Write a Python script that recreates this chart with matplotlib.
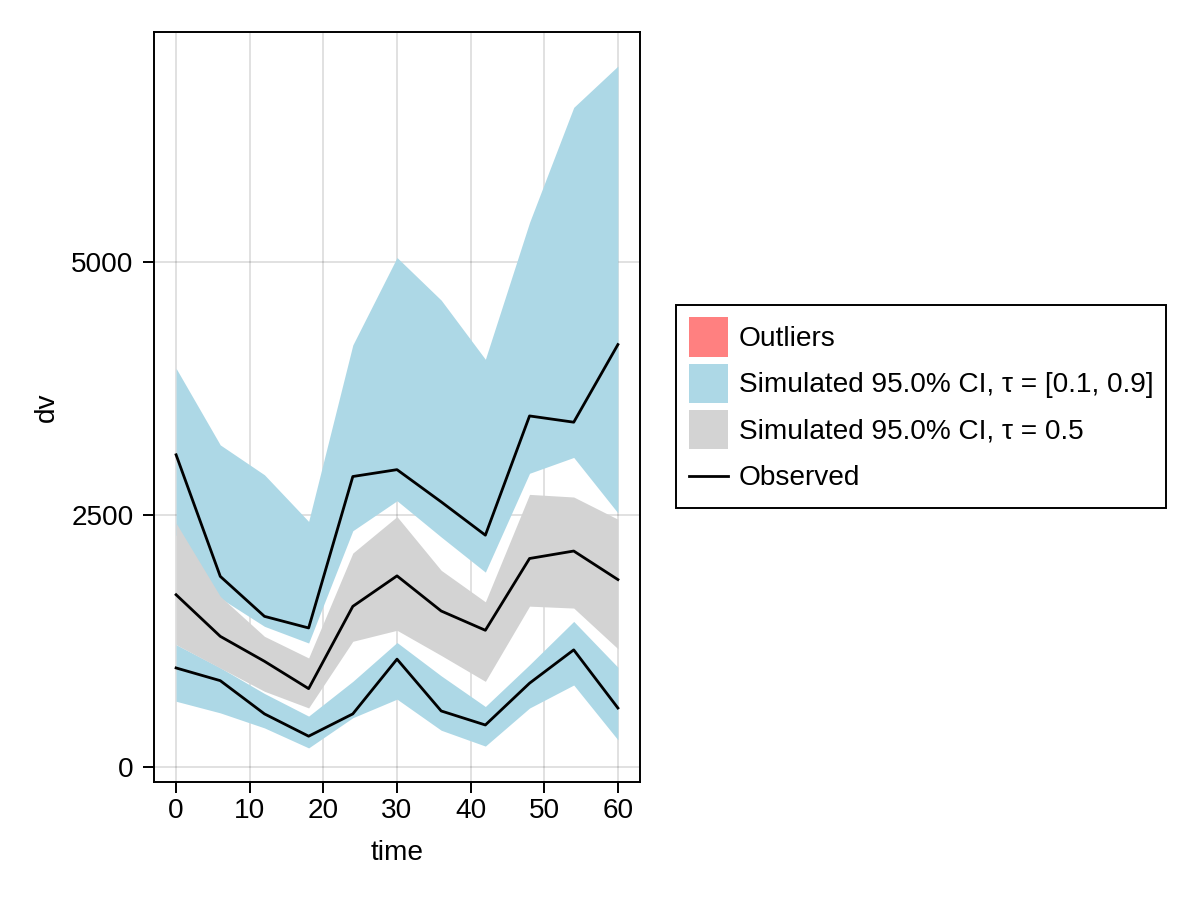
import matplotlib
matplotlib.use("Agg")
import matplotlib.pyplot as plt
import matplotlib.patches as mpatches
from matplotlib.lines import Line2D
from matplotlib.legend_handler import HandlerPatch, HandlerLine2D

# data
time = [0, 6, 12, 18, 24, 30, 36, 42, 48, 54, 60]

# observed quantiles (tau = 0.1, 0.5, 0.9)
obs_hi = [3094, 1890, 1494, 1379, 2879, 2947, 2628, 2298, 3479, 3417, 4186]
obs_med = [1708, 1296, 1049, 778, 1593, 1895, 1547, 1356, 2067, 2141, 1858]
obs_lo = [983, 857, 528, 307, 528, 1070, 557, 418, 832, 1162, 586]

# simulated 95% CI, tau = 0.9
up_top = [3951, 3192, 2896, 2434, 4182, 5048, 4626, 4040, 5396, 6535, 6944]
up_bot = [2300, 1675, 1395, 1230, 2342, 2639, 2280, 1932, 2911, 3068, 2518]
# simulated 95% CI, tau = 0.5
med_top = [2417, 1692, 1296, 1082, 2121, 2482, 1950, 1638, 2702, 2676, 2456]
med_bot = [1214, 982, 752, 587, 1247, 1356, 1107, 850, 1595, 1576, 1173]
# simulated 95% CI, tau = 0.1
low_top = [1214, 985, 730, 506, 850, 1235, 905, 601, 1015, 1444, 990]
low_bot = [653, 538, 389, 191, 490, 674, 366, 209, 586, 814, 271]

yticks = [0, 2500, 5000]
xticks = [0, 10, 20, 30, 40, 50, 60]


class CenteredLine(HandlerLine2D):
    # put the legend line in the middle of the patch-sized box
    def create_artists(self, legend, orig_handle, xdescent, ydescent,
                       width, height, fontsize, trans):
        arts = super().create_artists(legend, orig_handle, xdescent, ydescent,
                                      width, height, fontsize, trans)
        for a in arts:
            n = len(a.get_xdata())
            a.set_ydata([height / 2 - ydescent] * n)
        return arts


plt.rcParams['font.family'] = ['Liberation Sans', 'DejaVu Sans']
plt.rcParams['font.size'] = 20.2

fig = plt.figure(figsize=(12, 9), dpi=100)
ax = fig.add_axes([154 / 1200, 1 - 782 / 900, 486 / 1200, 750 / 900])

blue = '#add8e6'
gray = '#d3d3d3'

ax.fill_between(time, up_bot, up_top, color=blue, linewidth=0, zorder=2)
ax.fill_between(time, low_bot, low_top, color=blue, linewidth=0, zorder=2)
ax.fill_between(time, med_bot, med_top, color=gray, linewidth=0, zorder=3)

for y in (obs_lo, obs_med, obs_hi):
    ax.plot(time, y, color='black', linewidth=2.0, zorder=4)

# limits with 5% margin like Makie
ymin = min(low_bot)
ymax = max(up_top)
r = ymax - ymin
ax.set_ylim(ymin - 0.05 * r, ymax + 0.05 * r)
ax.set_xlim(-3, 63)

ax.set_xticks(xticks)
ax.set_yticks(yticks)
ax.grid(True, color='black', alpha=0.12, linewidth=1.4, zorder=0)
ax.set_axisbelow(True)
for s in ax.spines.values():
    s.set_linewidth(1.4)
ax.tick_params(direction='out', length=7.7, width=1.4)
ax.tick_params(axis='x', pad=3.5)
ax.tick_params(axis='y', pad=7)

ax.set_xlabel('time', labelpad=12)
ax.set_ylabel('dv', labelpad=8)

handles = [
    mpatches.Patch(color='#ff8080', linewidth=0),
    mpatches.Patch(color=blue, linewidth=0),
    mpatches.Patch(color=gray, linewidth=0),
    Line2D([0], [0], color='black', linewidth=2.0),
]
labels = ['Outliers',
          'Simulated 95.0% CI, τ = [0.1, 0.9]',
          'Simulated 95.0% CI, τ = 0.5',
          'Observed']
leg = fig.legend(handles, labels, loc='center left',
                 bbox_to_anchor=(676 / 1200, 1 - 406.5 / 900),
                 handler_map={mpatches.Patch: HandlerPatch(ypad=0),
                              Line2D: CenteredLine()},
                 fancybox=False, framealpha=1, edgecolor='black',
                 handlelength=1.40, handleheight=1.78, handletextpad=0.38,
                 labelspacing=0.25, borderpad=0.45, borderaxespad=0)
leg.get_frame().set_linewidth(1.4)

fig.savefig('out.png', dpi=100)
